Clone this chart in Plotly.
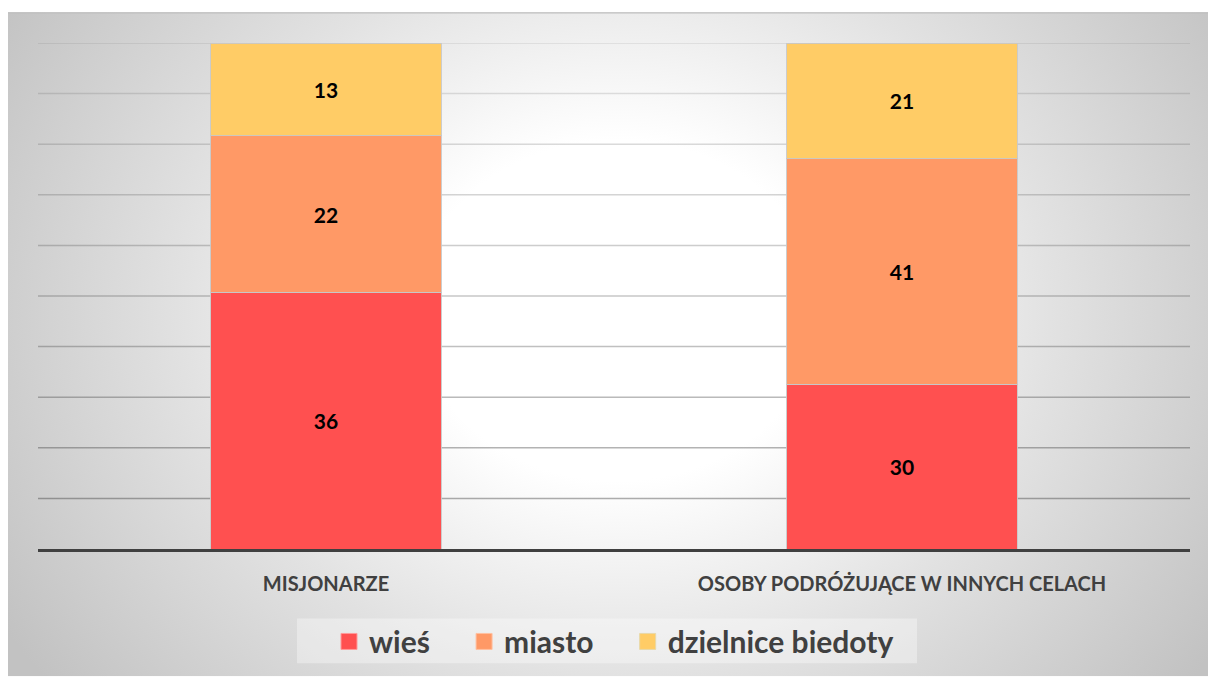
import base64
import plotly.graph_objects as go

# Data
categories = ["MISJONARZE", "OSOBY PODRÓŻUJĄCE W INNYCH CELACH"]
series_names = ["wieś", "miasto", "dzielnice biedoty"]
wies = [36, 30]
miasto = [22, 41]
dzielnice = [13, 21]
series_values = [wies, miasto, dzielnice]
colors = ["#FF5050", "#FF9966", "#FFCC66"]
legend_edges = ["#FF9A9A", "#FFC0A0", "#E8D8A8"]
grid_ticks = [10, 20, 30, 40, 50, 60, 70, 80, 90, 100]

FONT = "Lato"
W, H = 1208, 680
ML, MR, MT, MB = 38, 18, 43, 128
PW, PH = W - ML - MR, H - MT - MB


def px_x(p):
    return (p - ML) / PW


def px_y(p):
    return (H - MB - p) / PH


fig = go.Figure()
for name, vals, col in zip(series_names, series_values, colors):
    fig.add_trace(go.Bar(
        x=categories, y=vals, name=name, showlegend=False,
        marker=dict(color=col, line=dict(color="rgba(200,200,200,0.9)", width=1)),
        text=vals, texttemplate="%{text}", textposition="inside",
        insidetextanchor="middle", constraintext="none",
        textfont=dict(family=FONT, size=21, color="black", weight="bold"),
        width=0.4, hoverinfo="skip",
    ))

# Legend entries with larger square swatches; trailing spaces widen the gap between items
pad = "\u00a0" * 4
for k, (name, col, edge) in enumerate(zip(series_names, colors, legend_edges)):
    label = name + (pad if k < len(series_names) - 1 else "")
    fig.add_trace(go.Scatter(
        x=[None], y=[None], mode="markers", name=label, showlegend=True,
        marker=dict(symbol="square", size=18, color=col, line=dict(color=edge, width=1)),
        hoverinfo="skip",
    ))

# Radial-gradient card behind the chart
svg = (
    '<svg xmlns="http://www.w3.org/2000/svg" width="1200" height="668" '
    'viewBox="0 0 1200 668" preserveAspectRatio="none">'
    '<defs><radialGradient id="g" gradientUnits="userSpaceOnUse" cx="610" cy="300" r="720" '
    'gradientTransform="translate(610 300) scale(1 0.85) translate(-610 -300)">'
    '<stop offset="0" stop-color="#ffffff"/>'
    '<stop offset="0.28" stop-color="#ffffff"/>'
    '<stop offset="0.6" stop-color="#e2e2e2"/>'
    '<stop offset="1" stop-color="#c2c2c2"/>'
    '</radialGradient></defs>'
    '<rect width="1200" height="668" fill="url(#g)"/>'
    '<line x1="0" y1="0.5" x2="1200" y2="0.5" stroke="#bdbdbd" stroke-width="1.5"/>'
    '</svg>'
)
src = "data:image/svg+xml;base64," + base64.b64encode(svg.encode()).decode()
fig.add_layout_image(dict(
    source=src, xref="paper", yref="paper", x=px_x(8), y=px_y(12),
    sizex=1200 / PW, sizey=668 / PH, xanchor="left", yanchor="top",
    sizing="stretch", layer="below",
))

# Legend panel
fig.add_shape(type="rect", xref="paper", yref="paper",
              x0=px_x(297), x1=px_x(917), y0=px_y(622), y1=px_y(667),
              fillcolor="rgba(255,255,255,0.35)", line=dict(width=0), layer="below")

# Gridlines, darker toward the baseline
n = len(grid_ticks)
for i, t in enumerate(grid_ticks):
    a = 0.42 - 0.30 * i / (n - 1)
    fig.add_shape(type="line", xref="paper", yref="y", x0=0, x1=1, y0=t, y1=t,
                  line=dict(color=f"rgba(60,60,60,{a:.3f})", width=1.5), layer="below")

fig.update_layout(
    width=W, height=H,
    margin=dict(l=ML, r=MR, t=MT, b=MB),
    barmode="stack", barnorm="percent",
    paper_bgcolor="white", plot_bgcolor="rgba(0,0,0,0)",
    showlegend=True,
    legend=dict(
        orientation="h", x=px_x(614), xanchor="center", y=px_y(645), yanchor="middle",
        bgcolor="rgba(0,0,0,0)",
        font=dict(family=FONT, size=30, color="#404040", weight="bold"),
        traceorder="normal", itemclick=False, itemdoubleclick=False,
        itemsizing="trace", itemwidth=30,
    ),
    xaxis=dict(
        showgrid=False, showline=True, linecolor="#404040", linewidth=3,
        tickfont=dict(family=FONT, size=20, color="#404040", weight="bold"),
        ticks="", ticklabelstandoff=15, fixedrange=True,
    ),
    yaxis=dict(range=[0, 100], showgrid=False, showticklabels=False, zeroline=False,
               fixedrange=True),
    font=dict(family=FONT),
)

fig.write_html("out.html", config={"displayModeBar": False})
